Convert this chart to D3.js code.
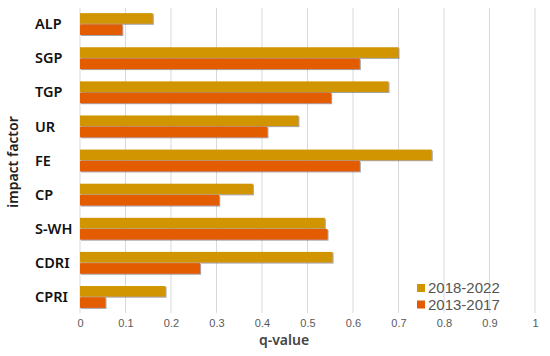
<!DOCTYPE html>
<html>
<head>
<meta charset="utf-8">
<script src="https://cdn.jsdelivr.net/npm/d3@7"></script>
<style>
  body { margin: 0; background: #fff; }
  svg { font-family: "Noto Sans", "Open Sans", sans-serif; }
</style>
</head>
<body>
<div id="chart"></div>
<script>
// impact factors, top to bottom
var factors = ["ALP", "SGP", "TGP", "UR", "FE", "CP", "S-WH", "CDRI", "CPRI"];
var periods = ["2018-2022", "2013-2017"];
var q2018 = [0.160, 0.700, 0.678, 0.480, 0.773, 0.380, 0.538, 0.555, 0.188];
var q2013 = [0.093, 0.615, 0.552, 0.412, 0.615, 0.306, 0.544, 0.264, 0.056];
var xTicks = [0, 0.1, 0.2, 0.3, 0.4, 0.5, 0.6, 0.7, 0.8, 0.9, 1];

var colors = ["#d09500", "#e35b05"];

var width = 550, height = 356;
var svg = d3.select("#chart").append("svg")
  .attr("width", width)
  .attr("height", height);

// soft shadow under each bar
var filt = svg.append("defs").append("filter")
  .attr("id", "shadow")
  .attr("x", "-5%").attr("y", "-20%")
  .attr("width", "115%").attr("height", "160%");
filt.append("feDropShadow")
  .attr("dx", 1).attr("dy", 1)
  .attr("stdDeviation", 0.7)
  .attr("flood-color", "#555")
  .attr("flood-opacity", 0.55);

var x = d3.scaleLinear().domain([0, 1]).range([80, 535]);
var y = d3.scaleBand().domain(factors).range([7, 314]).paddingInner(0.36).paddingOuter(0.18);
var sub = d3.scaleBand().domain(periods).range([0, y.bandwidth()]).paddingInner(0.05);

// vertical grid
svg.append("g")
  .selectAll("line").data(xTicks)
  .enter().append("line")
    .attr("x1", d => x(d)).attr("x2", d => x(d))
    .attr("y1", 8).attr("y2", 313)
    .attr("stroke", "#d9d9d9")
    .attr("stroke-width", 1);

// x axis tick labels
var xAxis = d3.axisBottom(x).tickValues(xTicks).tickSize(0).tickPadding(6)
  .tickFormat(d => d3.format("~g")(d));
var gx = svg.append("g").attr("transform", "translate(0,313)").call(xAxis);
gx.select(".domain").remove();
gx.selectAll("text")
  .attr("font-size", 11)
  .attr("fill", "#595959")
  .attr("font-family", "Liberation Sans, Arial, sans-serif");

// bars
var rows = factors.map((f, i) => ({ f: f, vals: [q2018[i], q2013[i]] }));
var groups = svg.append("g").selectAll("g").data(rows)
  .enter().append("g")
    .attr("transform", d => `translate(0, ${y(d.f)})`);

groups.selectAll("rect")
  .data(d => d.vals.map((v, j) => ({ v: v, p: periods[j], j: j })))
  .enter().append("rect")
    .attr("x", x(0))
    .attr("y", d => sub(d.p))
    .attr("width", d => x(d.v) - x(0))
    .attr("height", sub.bandwidth())
    .attr("fill", d => colors[d.j])
    .attr("filter", "url(#shadow)");

// category labels
svg.append("g").selectAll("text").data(factors)
  .enter().append("text")
    .attr("x", 35)
    .attr("y", d => y(d) + y.bandwidth() / 2)
    .attr("dy", "0.36em")
    .attr("font-size", 14.5)
    .attr("font-weight", 600)
    .attr("fill", "#111")
    .text(d => d);

// axis titles
svg.append("text")
  .attr("transform", "translate(18, 162) rotate(-90)")
  .attr("text-anchor", "middle")
  .attr("font-size", 14)
  .attr("font-weight", 600)
  .attr("fill", "#222")
  .text("impact factor");

svg.append("text")
  .attr("x", 284)
  .attr("y", 345)
  .attr("text-anchor", "middle")
  .attr("font-size", 14)
  .attr("font-weight", 600)
  .attr("fill", "#444")
  .text("q-value");

// legend
var legend = svg.append("g").attr("transform", "translate(417, 284)");
var items = legend.selectAll("g").data(periods)
  .enter().append("g")
    .attr("transform", (d, i) => `translate(0, ${i * 16.5})`);
items.append("rect")
  .attr("width", 8).attr("height", 8)
  .attr("fill", (d, i) => colors[i]);
items.append("text")
  .attr("x", 11)
  .attr("y", 4)
  .attr("dy", "0.36em")
  .attr("font-size", 15)
  .attr("font-family", "Liberation Sans, Arial, sans-serif")
  .attr("fill", "#555")
  .text(d => d);
</script>
</body>
</html>
